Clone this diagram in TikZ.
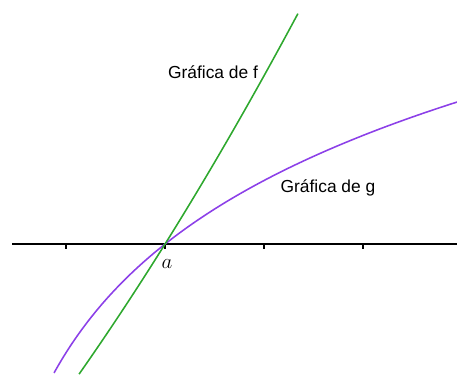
\documentclass[tikz,border=0pt]{standalone}
\usepackage{amsmath,amssymb}
\usepackage{xcolor}
\usepackage{fontspec}
\setmainfont{Liberation Sans}
\usepackage{tikz}
\definecolor{verdef}{RGB}{46,168,46}
\definecolor{moradog}{RGB}{140,64,232}

\begin{document}
\begin{tikzpicture}[x=2cm,y=2cm]
		\useasboundingbox (-1.667,-1.313) rectangle (2.949,2.465);
		% eje x
		\draw[line width=0.8pt] (-1.545,0) -- (2.949,0);
		% marcas del eje
		\foreach \x in {-1,0,1,2}
			\draw[line width=0.8pt] (\x,0) -- (\x,-0.045);
		% gráfica de g
		\draw[moradog,line width=0.9pt,samples=100,domain=-1.121:2.949]
			plot (\x,{1.583*ln(1+\x/2)});
		% gráfica de f
		\draw[verdef,line width=0.9pt,samples=100,domain=-0.868:1.343]
			plot (\x,{1.6*\x+0.1*\x*\x});
		% etiquetas
		\node[font=\large] (a) at (0.02,-0.2) {$a$};
		\node (gf) at (0.485,1.737) {Gráfica de f};
		\node (gg) at (1.646,0.566) {Gráfica de g};
	\end{tikzpicture}
\end{document}
